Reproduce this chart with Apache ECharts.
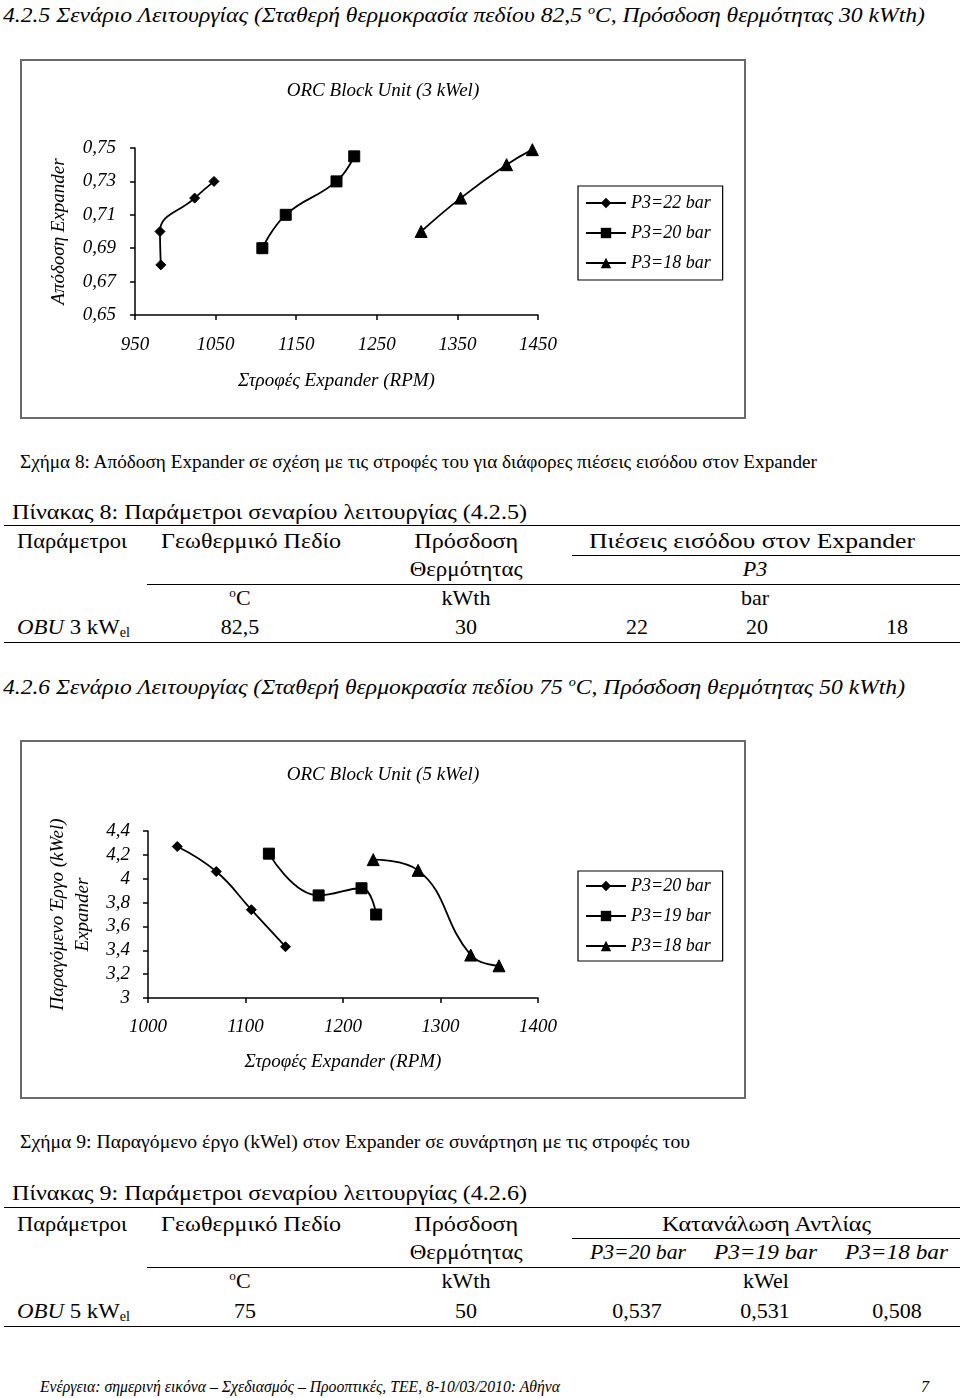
<!DOCTYPE html>
<html><head><meta charset="utf-8">
<script src="https://cdn.jsdelivr.net/npm/echarts@6/dist/echarts.min.js"></script>
<style>
html,body{margin:0;padding:0;background:#fff;}
body{width:960px;height:1398px;position:relative;overflow:hidden;font-family:'Liberation Serif','Times New Roman',serif;color:#000;}
.t{position:absolute;white-space:nowrap;line-height:1;}
.t sup{font-size:0.6em;vertical-align:0.6em;line-height:0}
.t sub{font-size:0.62em;vertical-align:-0.25em;line-height:0}
.r{position:absolute;height:0;border-top:1.5px solid #000;}
.frame{position:absolute;box-sizing:border-box;border:2px solid #6a6a6a;}
.chart{position:absolute;}
</style></head><body>
<div class="frame" style="left:20px;top:59px;width:726px;height:360px"></div>
<div id="c1" class="chart" style="left:20px;top:59px;width:726px;height:360px"></div>
<div class="frame" style="left:20px;top:740px;width:726px;height:359px"></div>
<div id="c2" class="chart" style="left:20px;top:740px;width:726px;height:359px"></div>
<script>
// ---------- Chart 1 data (Figure 8) ----------
const c1Title = 'ORC Block Unit (3 kWel)';
const c1XName = 'Στροφές Expander (RPM)';
const c1YName = 'Απόδοση Expander';
const c1Legend = ['P3=22 bar', 'P3=20 bar', 'P3=18 bar'];
const c1XTicks = [950, 1050, 1150, 1250, 1350, 1450];
const c1YTicks = [0.65, 0.67, 0.69, 0.71, 0.73, 0.75];
const c1Rpm22 = [982, 981, 1024, 1048];
const c1Eff22 = [0.680, 0.700, 0.720, 0.730];
const c1Rpm20 = [1108, 1137, 1200, 1222];
const c1Eff20 = [0.690, 0.710, 0.730, 0.745];
const c1Rpm18 = [1305, 1354, 1411, 1443];
const c1Eff18 = [0.700, 0.720, 0.740, 0.749];

// ---------- Chart 2 data (Figure 9) ----------
const c2Title = 'ORC Block Unit (5 kWel)';
const c2XName = 'Στροφές Expander (RPM)';
const c2YName = 'Παραγόμενο Έργο (kWel)\nExpander';
const c2Legend = ['P3=20 bar', 'P3=19 bar', 'P3=18 bar'];
const c2XTicks = [1000, 1100, 1200, 1300, 1400];
const c2YTicks = [3, 3.2, 3.4, 3.6, 3.8, 4, 4.2, 4.4];
const c2Rpm20 = [1030, 1070, 1106, 1141];
const c2Work20 = [4.27, 4.06, 3.74, 3.43];
const c2Rpm19 = [1124, 1175, 1219, 1234];
const c2Work19 = [4.21, 3.86, 3.92, 3.70];
const c2Rpm18 = [1231, 1277, 1331, 1360];
const c2Work18 = [4.16, 4.07, 3.36, 3.27];

const symbols = ['diamond', 'rect', 'triangle'];
const FONT = "'Liberation Serif','Times New Roman',serif";

function zip(xs, ys) { return xs.map((x, i) => [x, ys[i]]); }
function fmtComma(d) { return v => { let s = d === null ? String(+v.toFixed(2)) : v.toFixed(d); return s.replace('.', ','); }; }

function buildChart(el, cfg) {
  const chart = echarts.init(el, null, {renderer: 'canvas'});
  const txt = {fontFamily: FONT, fontStyle: 'italic', fontWeight: 'normal', color: '#000'};
  const axisCommon = {
    axisLine: {show: true, lineStyle: {color: '#000', width: 1.5}},
    axisTick: {show: true, length: 5, lineStyle: {color: '#000', width: 1.5}},
    splitLine: {show: false}
  };
  const xt = cfg.xTicks, yt = cfg.yTicks;
  chart.setOption({
    animation: false,
    title: {text: cfg.title, left: 'center', top: cfg.titleTop, padding: 0,
      textStyle: Object.assign({fontSize: 19}, txt)},
    grid: cfg.grid,
    legend: Object.assign({
      orient: 'vertical', data: cfg.legend, itemWidth: 40, itemHeight: 13, itemGap: 12,
      borderColor: '#000', borderWidth: 1.2, borderRadius: 0,
      textStyle: Object.assign({fontSize: 18}, txt), selectedMode: false
    }, cfg.legendPos),
    xAxis: Object.assign({
      type: 'value', min: xt[0], max: xt[xt.length - 1], interval: xt[1] - xt[0],
      name: cfg.xName, nameLocation: 'middle', nameGap: cfg.xNameGap,
      nameTextStyle: Object.assign({fontSize: 19}, txt),
      axisLabel: Object.assign({fontSize: 19, margin: cfg.xLabelMargin, formatter: v => String(Math.round(v))}, txt)
    }, axisCommon),
    yAxis: Object.assign({
      type: 'value', min: yt[0], max: yt[yt.length - 1], interval: +(yt[1] - yt[0]).toFixed(4),
      name: cfg.yName, nameLocation: 'middle', nameRotate: 90, nameGap: cfg.yNameGap,
      nameTextStyle: Object.assign({fontSize: 19, lineHeight: 25, align: 'center'}, txt),
      axisLabel: Object.assign({fontSize: 19, margin: cfg.yLabelMargin, formatter: cfg.yFmt}, txt)
    }, axisCommon),
    series: cfg.series.map((s, i) => ({
      type: 'line', name: cfg.legend[i], data: s, smooth: 0.45,
      symbol: symbols[i], symbolSize: [10, 11, 12][i], showSymbol: true,
      lineStyle: {color: '#000', width: 1.8},
      itemStyle: {color: '#000', borderColor: '#000'}
    }))
  });
}

buildChart(document.getElementById('c1'), {
  title: c1Title, titleTop: 22, xName: c1XName, yName: c1YName, legend: c1Legend,
  xTicks: c1XTicks, yTicks: c1YTicks,
  grid: {left: 115, top: 89, width: 403, height: 167},
  legendPos: {left: 558, top: 127, padding: [8, 12, 8, 7]},
  xNameGap: 56, yNameGap: 62, xLabelMargin: 20, yLabelMargin: 19,
  yFmt: fmtComma(2),
  series: [zip(c1Rpm22, c1Eff22), zip(c1Rpm20, c1Eff20), zip(c1Rpm18, c1Eff18)]
});
buildChart(document.getElementById('c2'), {
  title: c2Title, titleTop: 25, xName: c2XName, yName: c2YName, legend: c2Legend,
  xTicks: c2XTicks, yTicks: c2YTicks,
  grid: {left: 128, top: 91, width: 390, height: 167},
  legendPos: {left: 558, top: 131, padding: [6, 12, 6, 7]},
  xNameGap: 54, yNameGap: 50, xLabelMargin: 19, yLabelMargin: 18,
  yFmt: fmtComma(null),
  series: [zip(c2Rpm20, c2Work20), zip(c2Rpm19, c2Work19), zip(c2Rpm18, c2Work18)]
});

// ---------- Page text & tables ----------
function put(html, x, y, size, o) {
  o = o || {};
  const el = document.createElement('div');
  el.className = 't'; el.innerHTML = html; el.style.fontSize = size + 'px';
  if (o.it) el.style.fontStyle = 'italic';
  document.body.appendChild(el);
  const r = el.getBoundingClientRect();
  const w = r.width, h = r.height;
  const sx = o.w ? o.w / w : 1;
  if (o.c) { el.style.left = (x - w / 2) + 'px'; el.style.transformOrigin = '50% 50%'; }
  else { el.style.left = x + 'px'; el.style.transformOrigin = '0 50%'; }
  el.style.top = (y - h / 2) + 'px';
  if (sx !== 1) el.style.transform = 'scaleX(' + sx + ')';
}
function rule(x1, x2, y) {
  const d = document.createElement('div'); d.className = 'r';
  d.style.left = x1 + 'px'; d.style.width = (x2 - x1) + 'px'; d.style.top = y + 'px';
  document.body.appendChild(d);
}

put('4.2.5 Σενάριο Λειτουργίας (Σταθερή θερμοκρασία πεδίου 82,5 <sup>o</sup>C, Πρόσδοση θερμότητας 30 kWth)', 3, 15, 22, {it: 1, w: 922});
put('Σχήμα 8: Απόδοση Expander σε σχέση με τις στροφές του για διάφορες πιέσεις εισόδου στον Expander', 20, 461, 19, {w: 797});
put('Πίνακας 8: Παράμετροι σεναρίου λειτουργίας (4.2.5)', 12, 512, 22, {w: 515});
rule(4, 960, 525);
put('Παράμετροι', 17, 541, 22, {w: 110});
put('Γεωθερμικό Πεδίο', 161, 541, 22, {w: 180});
put('Πρόσδοση', 466, 541, 22, {c: 1, w: 104});
put('Πιέσεις εισόδου στον Expander', 589, 541, 22, {w: 326});
rule(572, 960, 555);
put('Θερμότητας', 466, 569, 22, {c: 1, w: 113});
put('P3', 755, 569, 22, {c: 1, it: 1});
rule(147, 960, 584);
put('<sup>o</sup>C', 240, 598, 22, {c: 1});
put('kWth', 466, 598, 22, {c: 1});
put('bar', 755, 598, 22, {c: 1});
put('<i>OBU</i> 3 kW<sub>el</sub>', 17, 627, 22, {w: 113});
put('82,5', 240, 627, 22, {c: 1});
put('30', 466, 627, 22, {c: 1});
put('22', 637, 627, 22, {c: 1});
put('20', 757, 627, 22, {c: 1});
put('18', 897, 627, 22, {c: 1});
rule(4, 960, 642);

put('4.2.6 Σενάριο Λειτουργίας (Σταθερή θερμοκρασία πεδίου 75 <sup>o</sup>C, Πρόσδοση θερμότητας 50 kWth)', 3, 687, 22, {it: 1, w: 902});
put('Σχήμα 9: Παραγόμενο έργο (kWel) στον Expander σε συνάρτηση με τις στροφές του', 20, 1141, 19, {w: 670});
put('Πίνακας 9: Παράμετροι σεναρίου λειτουργίας (4.2.6)', 12, 1193, 22, {w: 515});
rule(4, 960, 1207);
put('Παράμετροι', 17, 1224, 22, {w: 110});
put('Γεωθερμικό Πεδίο', 161, 1224, 22, {w: 180});
put('Πρόσδοση', 466, 1224, 22, {c: 1, w: 104});
put('Κατανάλωση Αντλίας', 662, 1224, 22, {w: 209});
rule(572, 960, 1238);
put('Θερμότητας', 466, 1252, 22, {c: 1, w: 113});
put('P3=20 bar', 590, 1252, 22, {it: 1, w: 96});
put('P3=19 bar', 714, 1252, 22, {it: 1, w: 103});
put('P3=18 bar', 845, 1252, 22, {it: 1, w: 103});
rule(147, 960, 1267);
put('<sup>o</sup>C', 240, 1281, 22, {c: 1});
put('kWth', 466, 1281, 22, {c: 1});
put('kWel', 766, 1281, 22, {c: 1});
put('<i>OBU</i> 5 kW<sub>el</sub>', 17, 1311, 22, {w: 113});
put('75', 245, 1311, 22, {c: 1});
put('50', 466, 1311, 22, {c: 1});
put('0,537', 637, 1311, 22, {c: 1});
put('0,531', 765, 1311, 22, {c: 1});
put('0,508', 897, 1311, 22, {c: 1});
rule(4, 960, 1326);

put('Ενέργεια: σημερινή εικόνα – Σχεδιασμός – Προοπτικές, ΤΕΕ, 8-10/03/2010: Αθήνα', 40, 1387, 16, {it: 1, w: 520});
put('7', 921, 1387, 16, {it: 1});
</script>
</body></html>
